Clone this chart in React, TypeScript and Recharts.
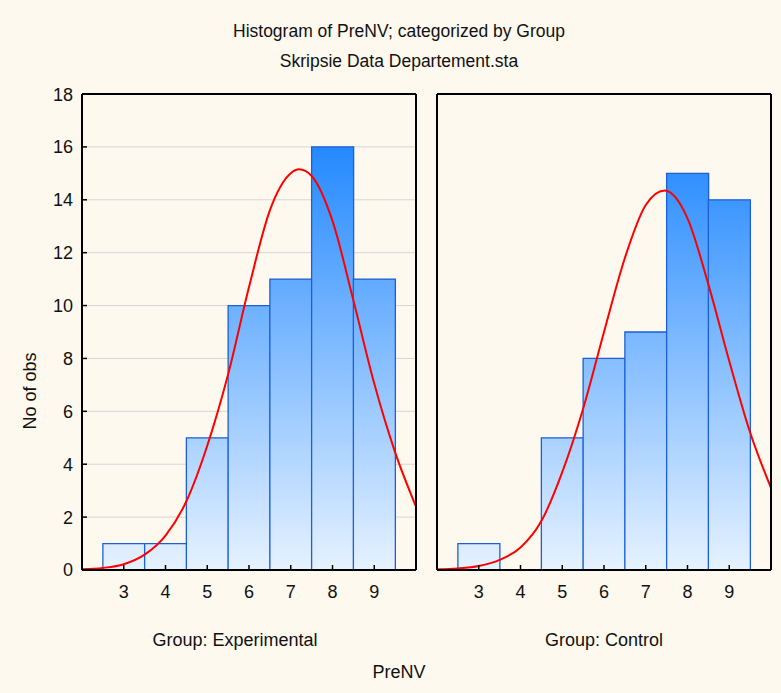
import { ComposedChart, Bar, Line, XAxis, YAxis, CartesianGrid } from 'recharts';

const bins = [3, 4, 5, 6, 7, 8, 9];
const experimentalCounts = [1, 1, 5, 10, 11, 16, 11];
const controlCounts = [1, 0, 5, 8, 9, 15, 14];

const experimentalCurveX = [2, 2.5, 3, 3.5, 4, 4.5, 5, 5.5, 6, 6.5, 7, 7.2, 7.5, 8, 8.5, 9, 9.5, 10];
const experimentalCurve = [0.03, 0.08, 0.22, 0.58, 1.3, 2.6, 4.7, 7.4, 10.7, 13.6, 15.0, 15.15, 14.9, 13.2, 10.2, 7.05, 4.45, 2.4];

const controlCurveX = [2, 2.5, 3, 3.5, 4, 4.5, 5, 5.5, 6, 6.5, 7, 7.45, 8, 8.5, 9, 9.5, 10];
const controlCurve = [0.03, 0.06, 0.15, 0.38, 0.85, 1.85, 3.7, 6.1, 9.0, 11.8, 13.8, 14.35, 13.3, 10.8, 7.9, 5.2, 3.1];

const xTicks = [3, 4, 5, 6, 7, 8, 9];
const yTicks = [0, 2, 4, 6, 8, 10, 12, 14, 16, 18];

const FONT = "'Liberation Sans Narrow', 'Arial Narrow', 'Liberation Sans', Arial, sans-serif";
const BG = '#fdf9ee';
const CHART_H = 520;
const PLOT_TOP = 10;
const PLOT_H = 476;

type PanelProps = {
  id: string;
  counts: number[];
  curveX: number[];
  curveY: number[];
  width: number;
  left: number;
  marginLeft: number;
  yLabels: boolean;
};

function Panel({ id, counts, curveX, curveY, width, left, marginLeft, yLabels }: PanelProps) {
  const barData = bins.map((b, i) => ({ x: b, count: counts[i] }));
  const curveData = curveX.map((x, i) => ({ x, fit: curveY[i] }));
  const axisLine = { stroke: '#000', strokeWidth: 2 };
  const tickLine = { stroke: '#000', strokeWidth: 1.5 };
  return (
    <div style={{ position: 'absolute', left, top: 84 }}>
      <ComposedChart
        width={width}
        height={CHART_H}
        data={barData}
        margin={{ top: 9, right: 9, bottom: 4, left: marginLeft }}
        barCategoryGap={0}
        barGap={0}
        style={{ fontFamily: FONT }}
      >
        <defs>
          <linearGradient id={id} gradientUnits="userSpaceOnUse" x1={0} y1={PLOT_TOP} x2={0} y2={PLOT_TOP + PLOT_H}>
            <stop offset="0%" stopColor="#0c7cff" />
            <stop offset="100%" stopColor="#e6f2ff" />
          </linearGradient>
        </defs>
        <CartesianGrid xAxisId="b" yAxisId="l" vertical={false} stroke="#d6d6d6" strokeWidth={1} />
        <XAxis xAxisId="bars" dataKey="x" type="number" domain={[2, 10]} allowDataOverflow hide />
        <XAxis
          xAxisId="b"
          dataKey="x"
          type="number"
          domain={[2, 10]}
          ticks={xTicks}
          allowDataOverflow
          height={30}
          tickSize={-5}
          tickMargin={20}
          axisLine={axisLine}
          tickLine={tickLine}
          tick={{ fill: '#111', fontSize: 18, fontFamily: FONT }}
        />
        <XAxis
          xAxisId="t"
          orientation="top"
          type="number"
          domain={[2, 10]}
          ticks={xTicks}
          allowDataOverflow
          height={1}
          tickSize={-5}
          tick={false}
          axisLine={axisLine}
          tickLine={tickLine}
        />
        <YAxis
          yAxisId="l"
          type="number"
          domain={[0, 18]}
          ticks={yTicks}
          allowDataOverflow
          width={yLabels ? 60 : 1}
          tickSize={-5}
          tickMargin={14}
          axisLine={axisLine}
          tickLine={tickLine}
          tick={yLabels ? { fill: '#111', fontSize: 18, fontFamily: FONT } : false}
        />
        <YAxis
          yAxisId="r"
          orientation="right"
          type="number"
          domain={[0, 18]}
          ticks={yTicks}
          allowDataOverflow
          width={1}
          tickSize={-5}
          tick={false}
          axisLine={axisLine}
          tickLine={tickLine}
        />
        <Bar
          xAxisId="bars"
          yAxisId="l"
          dataKey="count"
          fill={`url(#${id})`}
          stroke="#1d5fd4"
          strokeWidth={1.3}
          isAnimationActive={false}
        />
        <Line
          xAxisId="b"
          yAxisId="l"
          data={curveData}
          dataKey="fit"
          type="monotone"
          stroke="#ff0000"
          strokeWidth={2}
          dot={false}
          activeDot={false}
          isAnimationActive={false}
        />
      </ComposedChart>
    </div>
  );
}

export default function App() {
  return (
    <div style={{ position: 'absolute', left: 0, top: 0, width: 781, height: 693, background: BG, fontFamily: FONT, overflow: 'hidden' }}>
      <Panel id="gradExp" counts={experimentalCounts} curveX={experimentalCurveX} curveY={experimentalCurve} width={426} left={0} marginLeft={22} yLabels />
      <Panel id="gradCtl" counts={controlCounts} curveX={controlCurveX} curveY={controlCurve} width={355} left={426} marginLeft={10} yLabels={false} />
      <svg width={781} height={693} style={{ position: 'absolute', left: 0, top: 0, pointerEvents: 'none' }}>
        <g fontFamily={FONT} fontSize={18} fill="#111" textAnchor="middle">
          <text x={399} y={37} fontSize={17.5}>Histogram of PreNV; categorized by Group</text>
          <text x={399} y={67} fontSize={17.5}>Skripsie Data Departement.sta</text>
          <text x={235} y={646}>Group: Experimental</text>
          <text x={604} y={646}>Group: Control</text>
          <text x={399} y={678}>PreNV</text>
          <text x={36} y={391} transform="rotate(-90 36 391)">No of obs</text>
        </g>
      </svg>
    </div>
  );
}
